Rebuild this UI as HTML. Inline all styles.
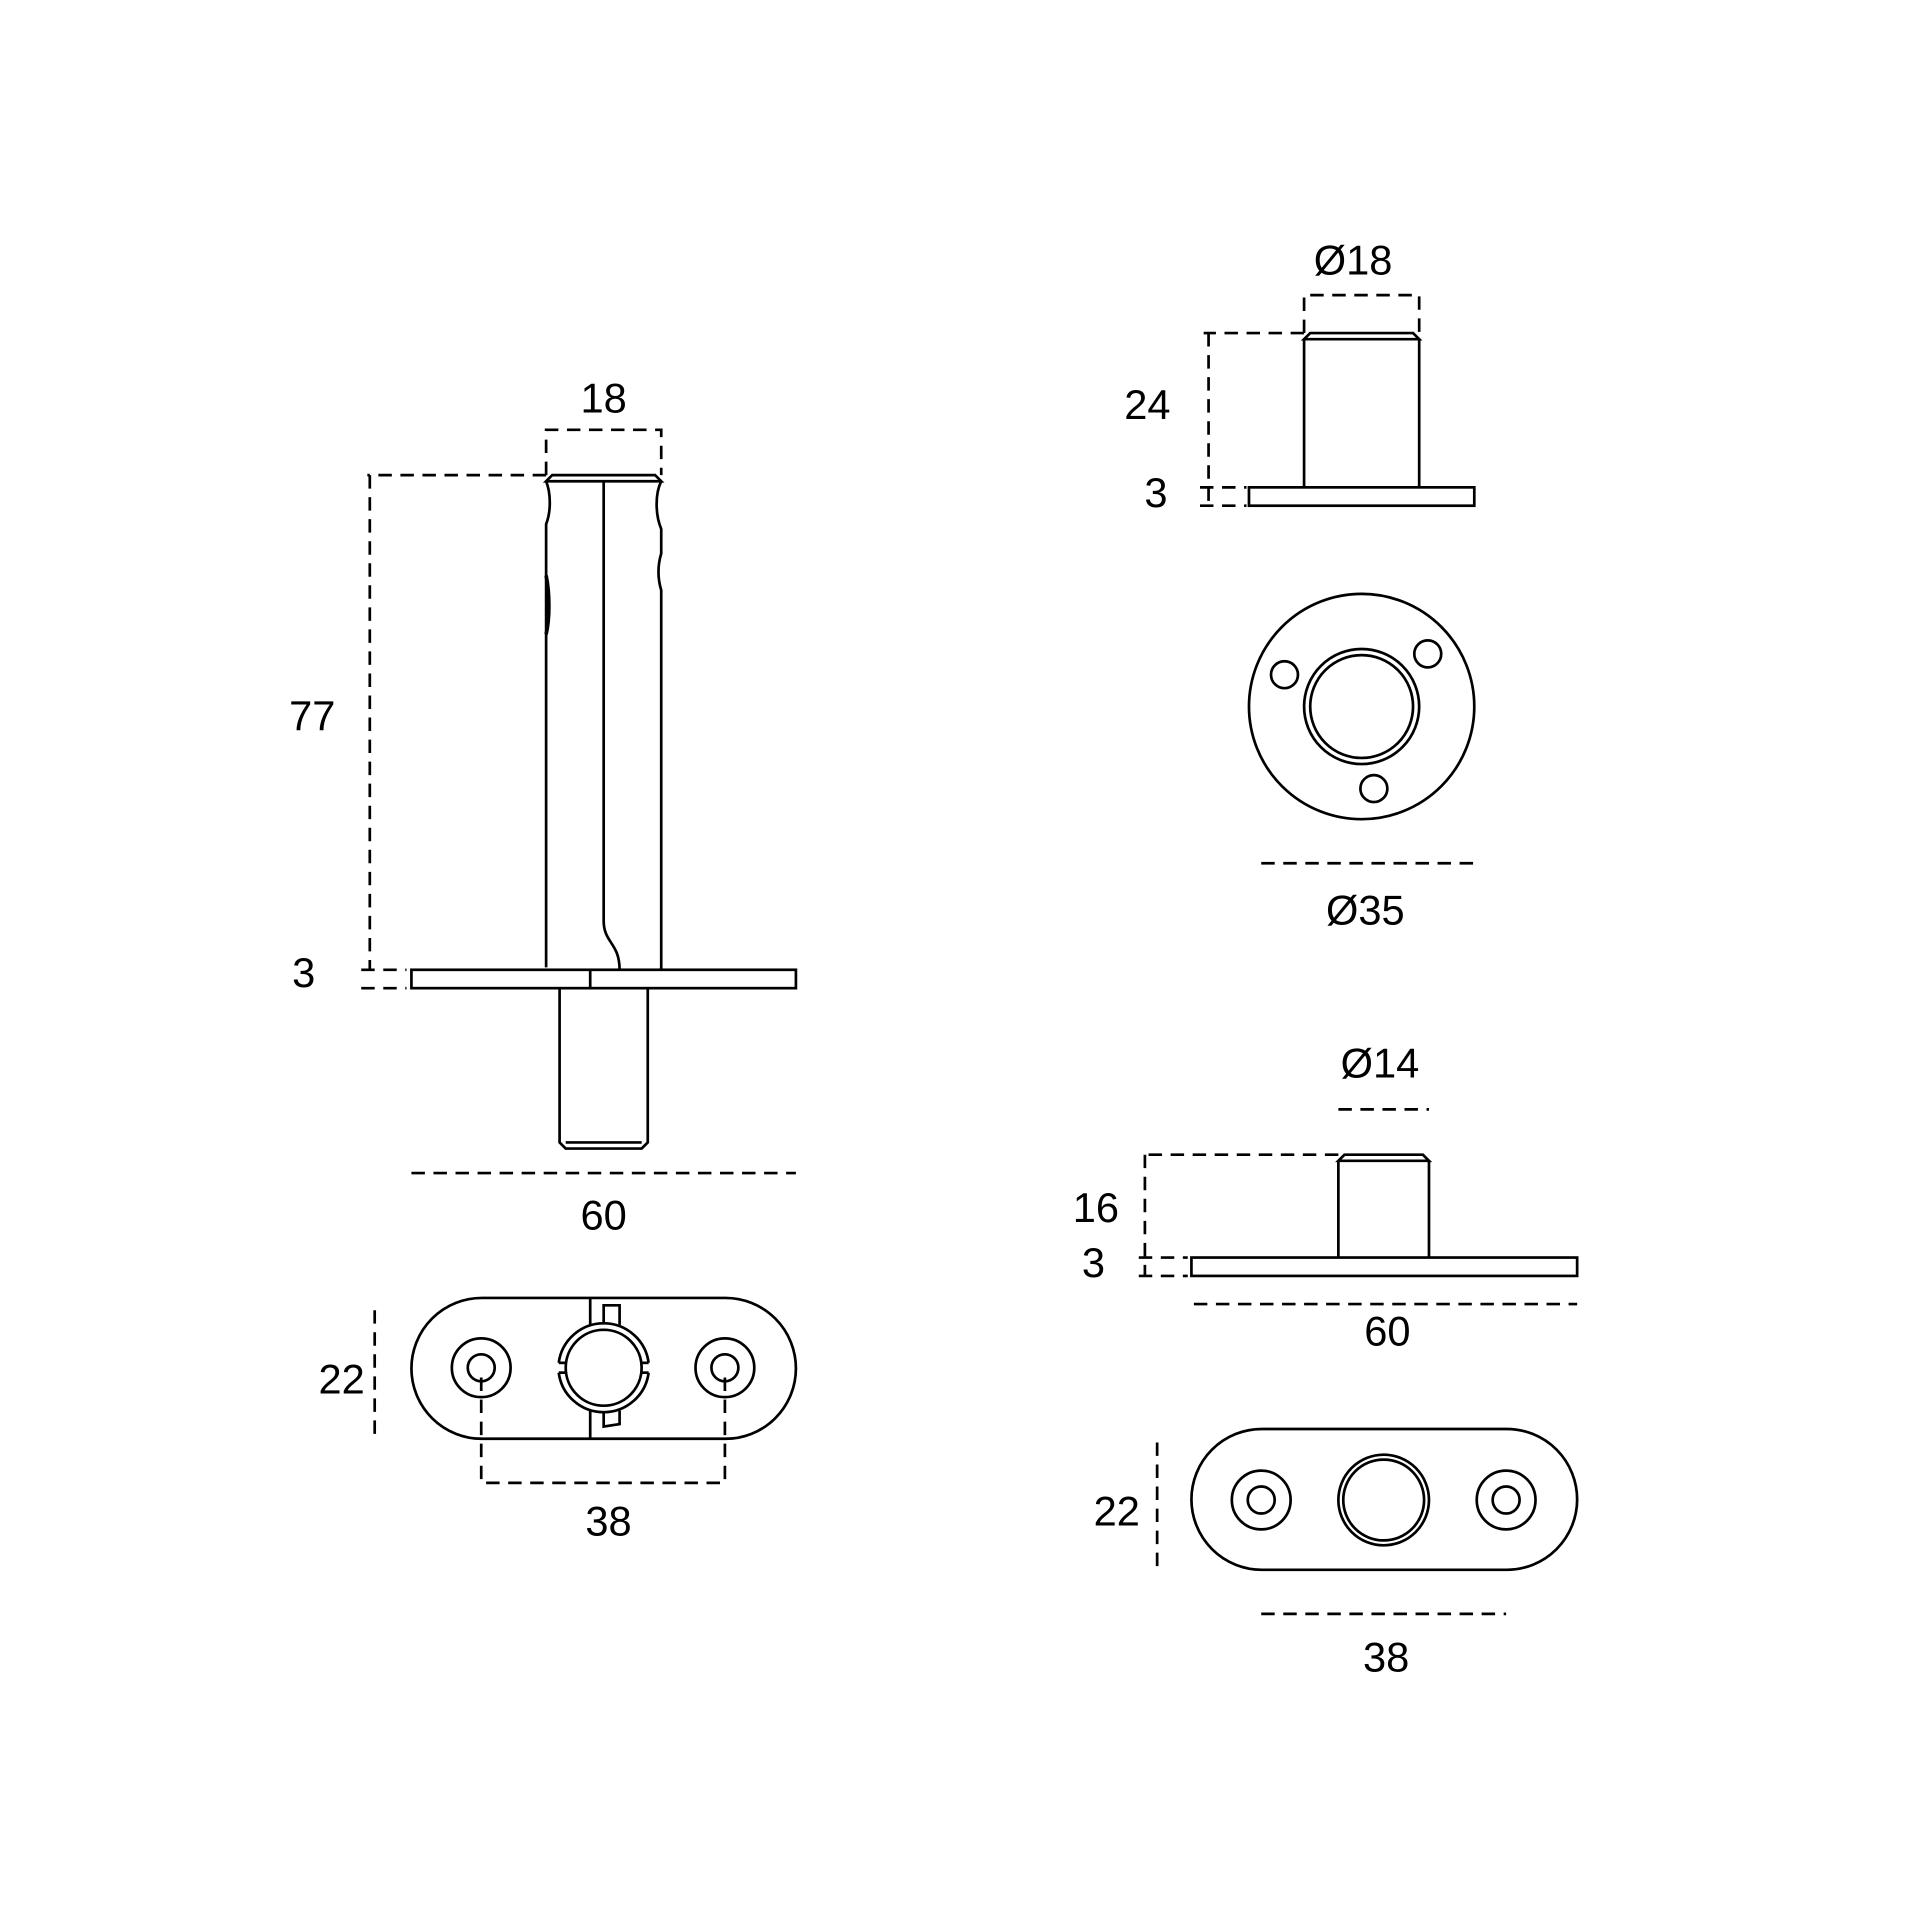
<!DOCTYPE html>
<html><head><meta charset="utf-8"><style>html,body{margin:0;padding:0;background:#fff}svg{display:block}</style></head>
<body>
<svg width="1920" height="1920" viewBox="0 0 1568 1568" xmlns="http://www.w3.org/2000/svg">
<g fill="none" stroke="#000" stroke-width="2.2">
<!-- LEFT SIDE VIEW -->
<path d="M451 388 H535 L540 393 H446 Z"/>
<path d="M446 393 C450 403 450 418 446 428 V790"/>
<path d="M446 470 C449 485 449 505 446 518" stroke-width="3"/>
<path d="M540 393 C535 403 535 420 540 432 V452 C537 462 537 472 540 482 V792"/>
<path d="M493 393 V752 C493 770 506 770 506 792"/>
<rect x="336" y="792" width="314" height="15"/>
<line x1="482" y1="792" x2="482" y2="807"/>
<path d="M457 807 V933 L462 938 H524 L529 933 V807"/>
<line x1="462" y1="933" x2="524" y2="933"/>
<!-- LEFT BOTTOM VIEW -->
<path d="M393.5 1060 H592.5 A57.5 57.5 0 0 1 592.5 1175 H393.5 A57.5 57.5 0 0 1 393.5 1060 Z"/>
<circle cx="393" cy="1117" r="24"/><circle cx="393" cy="1117" r="11"/>
<circle cx="592" cy="1117" r="24"/><circle cx="592" cy="1117" r="11"/>
<line x1="482" y1="1060" x2="482" y2="1082"/><line x1="482" y1="1152" x2="482" y2="1175"/>
<path d="M493 1081 V1066 H506 V1082"/><path d="M493 1153 V1165 L506 1163 V1152"/>
<path d="M456.3 1113 A37 37 0 0 1 529.7 1113"/><path d="M456.3 1121 A37 37 0 0 0 529.7 1121"/>
<circle cx="493" cy="1117" r="31"/>
<line x1="456.3" y1="1113" x2="462" y2="1113"/><line x1="456.3" y1="1121" x2="462" y2="1121"/>
<line x1="524" y1="1113" x2="529.7" y2="1113"/><line x1="524" y1="1121" x2="529.7" y2="1121"/>
<!-- RIGHT TOP -->
<path d="M1070 272 H1154 L1159 277 H1065 Z"/>
<path d="M1065 277 V398 M1159 277 V398"/>
<rect x="1020" y="398" width="184" height="15"/>
<circle cx="1112" cy="577" r="92"/>
<circle cx="1112" cy="577" r="47"/><circle cx="1112" cy="577" r="42"/>
<circle cx="1049" cy="551" r="11"/><circle cx="1166" cy="534" r="11"/><circle cx="1122" cy="644" r="11"/>
<!-- RIGHT BOTTOM -->
<path d="M1098 943 H1162 L1167 948 H1093 Z"/>
<path d="M1093 948 V1027 M1167 948 V1027"/>
<rect x="973" y="1027" width="315" height="15"/>
<path d="M1030.5 1167 H1230.5 A57.5 57.5 0 0 1 1230.5 1282 H1030.5 A57.5 57.5 0 0 1 1030.5 1167 Z"/>
<circle cx="1030" cy="1225" r="24"/><circle cx="1030" cy="1225" r="11"/>
<circle cx="1230" cy="1225" r="24"/><circle cx="1230" cy="1225" r="11"/>
<circle cx="1130" cy="1225" r="37"/><circle cx="1130" cy="1225" r="33"/>
</g>
<g fill="none" stroke="#000" stroke-width="2.2" stroke-dasharray="11 7">
<path d="M446 388 V351 H540 V388"/>
<path d="M446 388 H300"/><path d="M302 388 V792"/>
<path d="M295 792 H332 M295 807 H332"/>
<path d="M336 958 H650"/>
<path d="M306 1070 V1175"/>
<path d="M393 1125 V1211 H592 V1125"/>
<path d="M1065 272 V241 H1159 V272"/>
<path d="M1065 272 H983"/><path d="M987 272 V413"/>
<path d="M980 398 H1018 M980 413 H1018"/>
<path d="M1030 705 H1205"/>
<path d="M1093 906 H1167"/>
<path d="M1093 943 H935"/><path d="M935 943 V1042"/>
<path d="M930 1027 H970 M930 1042 H970"/>
<path d="M975 1065 H1288"/>
<path d="M945 1178 V1282"/>
<path d="M1030 1318 H1230"/>
</g>
<g font-family="Liberation Sans, DejaVu Sans, sans-serif" font-size="34" fill="#000" text-anchor="middle">
<text x="493" y="337">18</text>
<text x="255" y="596">77</text>
<text x="248" y="806">3</text>
<text x="493" y="1004">60</text>
<text x="279" y="1138">22</text>
<text x="497" y="1254">38</text>
<text x="1105" y="224">Ø18</text>
<text x="937" y="342">24</text>
<text x="944" y="414">3</text>
<text x="1115" y="755">Ø35</text>
<text x="1127" y="880">Ø14</text>
<text x="895" y="998">16</text>
<text x="893" y="1043">3</text>
<text x="1133" y="1099">60</text>
<text x="912" y="1246">22</text>
<text x="1132" y="1365">38</text>
</g>
</svg>
</body></html>
